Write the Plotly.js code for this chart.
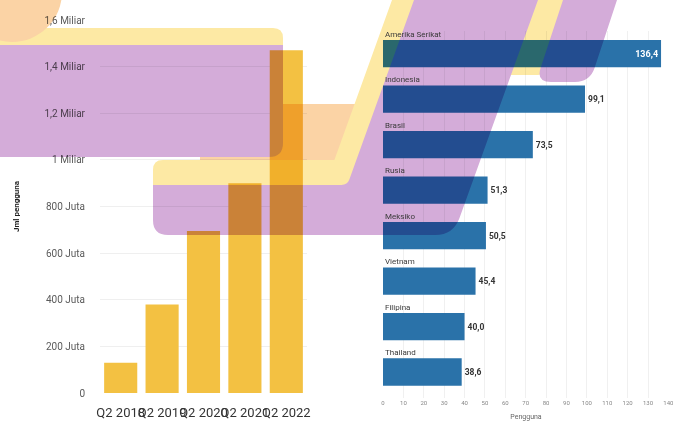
<!DOCTYPE html>
<html><head><meta charset="utf-8">
<script src="https://cdn.plot.ly/plotly-3.0.1.min.js"></script>
<style>
html,body{margin:0;padding:0;background:#fff;}
#chart{width:673px;height:422px;}
.layer-above > .shapelayer{mix-blend-mode:multiply;}
</style></head><body><div id="chart"></div>
<script>
// ---- data ----
const quarters = ['Q2 2018','Q2 2019','Q2 2020','Q2 2021','Q2 2022'];
const globalUsers = [130e6, 380e6, 695e6, 900e6, 1470e6];
const yTickVals = [0, 2e8, 4e8, 6e8, 8e8, 1e9, 1.2e9, 1.4e9, 1.6e9];
const yTickText = ['0','200 Juta','400 Juta','600 Juta','800 Juta','1 Miliar','1,2 Miliar','1,4 Miliar','1,6 Miliar'];
const countries = ['Amerika Serikat','Indonesia','Brasil','Rusia','Meksiko','Vietnam','Filipina','Thailand'];
const countryUsers = [136.4, 99.1, 73.5, 51.3, 50.5, 45.4, 40.0, 38.6];
const xTickVals2 = [0, 10, 20, 30, 40, 50, 60, 70, 80, 90, 100, 110, 120, 130, 140];

// ---- decorative background shapes (pixel helpers) ----
const W = 673, H = 422;
function P(x,y){ return (x/W).toFixed(5)+','+(1-y/H).toFixed(5); }
function roundPoly(pts){
  const n = pts.length; let d = '';
  for (let i=0;i<n;i++){
    const [x,y,r] = pts[i];
    const prev = pts[(i-1+n)%n], next = pts[(i+1)%n];
    const cmd = i===0 ? 'M' : 'L';
    if (!r){ d += cmd + P(x,y); continue; }
    const v1=[prev[0]-x,prev[1]-y], l1=Math.hypot(v1[0],v1[1]);
    const v2=[next[0]-x,next[1]-y], l2=Math.hypot(v2[0],v2[1]);
    const a=[x+v1[0]/l1*r, y+v1[1]/l1*r], b=[x+v2[0]/l2*r, y+v2[1]/l2*r];
    d += cmd + P(a[0],a[1]) + 'Q' + P(x,y) + ' ' + P(b[0],b[1]);
  }
  return d + 'Z';
}
const YEL = '#fde9a4', PUR = '#d4acd9', PEA = '#fbd3a5';
function pathShape(d, color){
  return {type:'path', xref:'paper', yref:'paper', path:d, fillcolor:color, line:{width:0}, layer:'above'};
}
const sl = 0.36;
const shapes = [
  pathShape(roundPoly([[-20,28,0],[283,28,10],[283,150,0],[-20,150,0]]), YEL),
  {type:'circle', xref:'paper', yref:'paper', x0:-38/W, x1:62/W, y0:1-42/H, y1:1+58/H, fillcolor:PEA, line:{width:0}, layer:'above'},
  pathShape(roundPoly([[200,104,0],[370,104,0],[370,200,0],[200,200,0]]), PEA),
  pathShape(roundPoly([[-20,45,0],[283,45,0],[283,157,14],[-20,157,0]]), PUR),
  pathShape(roundPoly([[153,160,10],[392-sl*160,160,0],[392+sl*10,-10,0],[460+sl*10,-10,0],[460-sl*220,220,0],[153,220,0]]), YEL),
  pathShape(roundPoly([[515+sl*10,-10,0],[575+sl*10,-10,0],[575-sl*75,75,10],[515-sl*75,75,10]]), YEL),
  pathShape(roundPoly([[153,185,0],[414-sl*185,185,6],[414+sl*10,-10,0],[538+sl*10,-10,0],[538-sl*235,235,18],[153,235,15]]), PUR),
  pathShape(roundPoly([[563+0.33*10,-10,0],[617+0.33*10,-10,0],[617-0.33*82,82,15],[563-0.33*82,82,15]]), PUR)
];

// ---- traces ----
const leftBars = {
  type:'bar', x:quarters, y:globalUsers, xaxis:'x', yaxis:'y',
  marker:{color:'#f3c142'}, width:0.8, hoverinfo:'skip'
};
const rightBars = {
  type:'bar', orientation:'h', x:countryUsers, y:countries, xaxis:'x2', yaxis:'y2',
  marker:{color:'#2a72a9'}, width:0.6,
  texttemplate:'%{x:.1f}',
  textposition: countries.map((c,i)=> i===0 ? 'inside' : 'outside'),
  insidetextanchor:'end',
  insidetextfont:{color:'#ffffff', size:9, weight:'bold'},
  outsidetextfont:{color:'#333333', size:8.5, weight:'bold'},
  cliponaxis:false, hoverinfo:'skip'
};

const annotations = countries.map(c => ({
  xref:'x2', yref:'y2', x:0, y:c, text:c, showarrow:false,
  xanchor:'left', yanchor:'bottom', yshift:13,
  font:{size:8, color:'#3a3a3a'}
}));

const layout = {
  width:W, height:H,
  margin:{l:0, r:0, t:0, b:0},
  paper_bgcolor:'#ffffff', plot_bgcolor:'rgba(0,0,0,0)',
  font:{family:'Roboto, sans-serif', color:'#444'},
  separators:',.',
  showlegend:false, hovermode:false, bargap:0.2,
  xaxis:{domain:[100/W, 307/W], type:'category', tickangle:0, showgrid:false, zeroline:false,
         tickfont:{size:13, color:'#333333'}, ticklabelstandoff:10, anchor:'y'},
  yaxis:{domain:[1-393/H, 1-20/H], range:[0,1.6e9], tickvals:yTickVals, ticktext:yTickText,
         tickfont:{size:10, color:'#5a5a5a'}, gridcolor:'#efefef', zeroline:false,
         ticklabelstandoff:14, anchor:'x',
         title:{text:'Jml pengguna', font:{size:8, color:'#222222', weight:'bold'}, standoff:23}},
  xaxis2:{domain:[383/W, 669/W], range:[0,140.3], tickmode:'array', tickvals:xTickVals2, anchor:'y2',
          tickfont:{size:6, color:'#888888'}, gridcolor:'#f0f0f0', zeroline:false,
          ticklabelstandoff:0, ticklabeloverflow:'allow',
          title:{text:'Pengguna', font:{size:7, color:'#666666'}, standoff:9}},
  yaxis2:{domain:[1-398/H, 1-31/H], anchor:'x2', type:'category', categoryorder:'array',
          categoryarray:countries, autorange:'reversed', showticklabels:false, showgrid:false, zeroline:false},
  shapes:shapes,
  annotations:annotations
};

Plotly.newPlot('chart', [leftBars, rightBars], layout, {staticPlot:true, displayModeBar:false});
</script></body></html>
